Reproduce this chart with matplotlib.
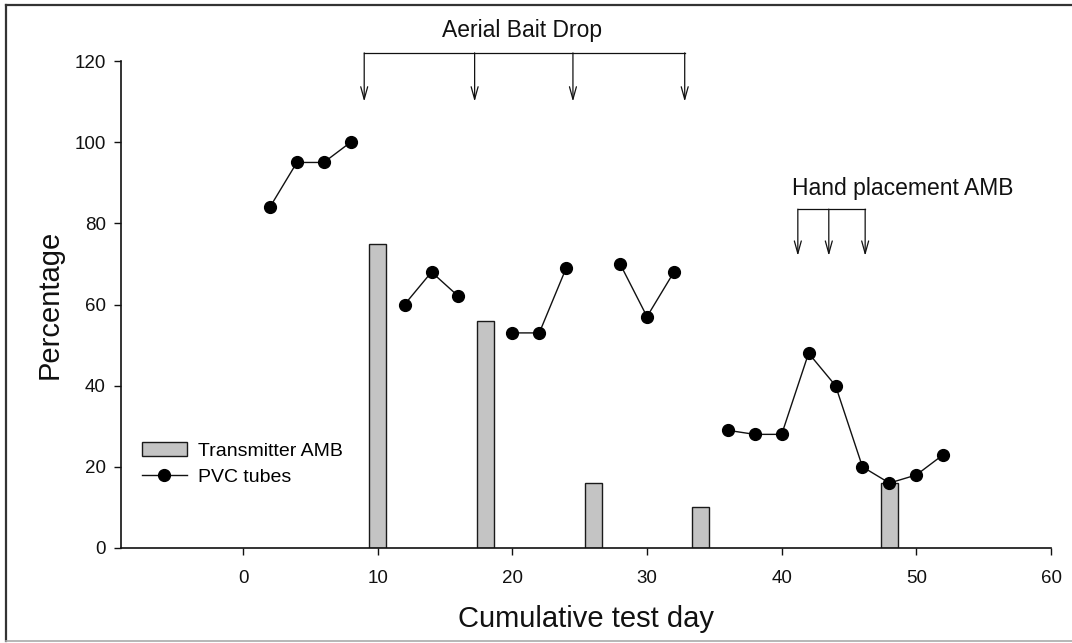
import matplotlib
matplotlib.use('Agg')
import matplotlib.pyplot as plt
from matplotlib.lines import Line2D

plt.rcParams['font.family'] = ['Liberation Sans', 'DejaVu Sans']

# ---- data ----
bar_days = [10, 18, 26, 34, 48]
bar_values = [75, 56, 16, 10, 16]

pvc_days_1 = [2, 4, 6, 8]
pvc_vals_1 = [84, 95, 95, 100]
pvc_days_2 = [12, 14, 16]
pvc_vals_2 = [60, 68, 62]
pvc_days_3 = [20, 22, 24]
pvc_vals_3 = [53, 53, 69]
pvc_days_4 = [28, 30, 32]
pvc_vals_4 = [70, 57, 68]
pvc_days_5 = [36, 38, 40, 42, 44, 46, 48, 50, 52]
pvc_vals_5 = [29, 28, 28, 48, 40, 20, 16, 18, 23]

aerial_drop_days = [9, 17.2, 24.5, 32.8]
hand_placement_days = [41.2, 43.5, 46.2]

x_ticks = [0, 10, 20, 30, 40, 50, 60]
y_ticks = [0, 20, 40, 60, 80, 100, 120]

W, H = 1072, 643
fig = plt.figure(figsize=(W / 100, H / 100), dpi=100)
ax = fig.add_axes([121 / W, 1 - 548 / H, (1051 - 121) / W, (548 - 61) / H])
ax.set_xlim(-9.06, 60)
ax.set_ylim(0, 120)

bars = ax.bar(bar_days, bar_values, width=1.25, color='#c4c4c4',
              edgecolor='#1a1a1a', linewidth=1.0, zorder=2)

line = None
for d, v in [(pvc_days_1, pvc_vals_1), (pvc_days_2, pvc_vals_2),
             (pvc_days_3, pvc_vals_3), (pvc_days_4, pvc_vals_4),
             (pvc_days_5, pvc_vals_5)]:
    line, = ax.plot(d, v, color='#111111', lw=1.0, marker='o',
                    markersize=8.5, markerfacecolor='black',
                    markeredgecolor='black', zorder=3)

for s in ['top', 'right']:
    ax.spines[s].set_visible(False)
for s in ['left', 'bottom']:
    ax.spines[s].set_linewidth(1.2)
    ax.spines[s].set_color('#111111')

ax.set_xticks(x_ticks)
ax.set_yticks(y_ticks)
ax.tick_params(axis='y', direction='out', length=5, width=1, pad=6,
               labelsize=13.5, colors='#111111')
ax.tick_params(axis='x', direction='out', length=5, width=1, pad=11,
               labelsize=13.5, colors='#111111')

ax.set_xlabel('Cumulative test day', fontsize=21, color='#111111', labelpad=13)
ax.set_ylabel('Percentage', fontsize=21, color='#111111', labelpad=8)

# Aerial bait drop annotation
arrow_kw = dict(arrowstyle='->,head_length=0.9,head_width=0.25',
                lw=0.9, color='#111111', shrinkA=0, shrinkB=0,
                mutation_scale=10)
top_y = 122
ax.plot([aerial_drop_days[0], aerial_drop_days[-1]], [top_y, top_y],
        color='#111111', lw=0.9, clip_on=False)
for d in aerial_drop_days:
    ax.annotate('', xy=(d, 110), xytext=(d, top_y), arrowprops=arrow_kw,
                annotation_clip=False)
ax.text(20.7, 127.5, 'Aerial Bait Drop', ha='center', va='center',
        fontsize=16.5, color='#111111', clip_on=False)

# Hand placement annotation
hp_y = 83.5
ax.plot([hand_placement_days[0], hand_placement_days[-1]], [hp_y, hp_y],
        color='#111111', lw=0.9)
for d in hand_placement_days:
    ax.annotate('', xy=(d, 72), xytext=(d, hp_y), arrowprops=arrow_kw)
ax.text(40.8, 88.5, 'Hand placement AMB', ha='left', va='center',
        fontsize=16.5, color='#111111')

# Legend
ax.legend([bars, line], ['Transmitter AMB', 'PVC tubes'], loc='upper left',
          bbox_to_anchor=(142 / W, 1 - 442 / H), bbox_transform=fig.transFigure,
          frameon=False, fontsize=14, handlelength=2.3, handletextpad=0.6,
          labelspacing=0.45, borderpad=0, borderaxespad=0)

# figure frame
fig.add_artist(Line2D([6 / W, 1.0], [1 - 5 / H, 1 - 5 / H],
                      transform=fig.transFigure, color='#333333', lw=1.6))
fig.add_artist(Line2D([6 / W, 6 / W], [1 - 5 / H, 1 - 641 / H],
                      transform=fig.transFigure, color='#333333', lw=1.6))
fig.add_artist(Line2D([6 / W, 1.0], [1 - 641 / H, 1 - 641 / H],
                      transform=fig.transFigure, color='#aaaaaa', lw=1.2))

fig.savefig('out.png', dpi=100)
